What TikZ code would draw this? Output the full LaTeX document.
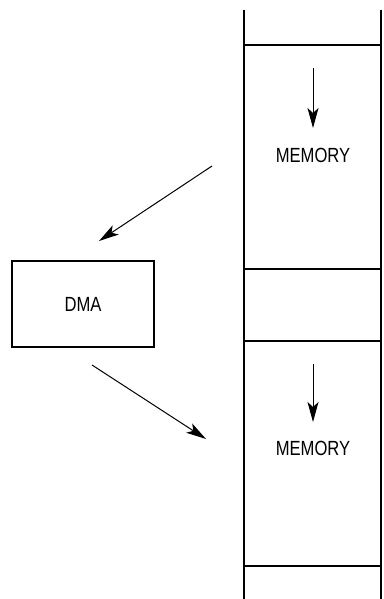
\documentclass[tikz,border=0pt]{standalone}
\usepackage{fontspec}
\setmainfont{Liberation Sans}[FakeStretch=0.81]
\usetikzlibrary{arrows.meta}
\begin{document}
\begin{tikzpicture}[x=1pt,y=-1pt,
  wall/.style={line width=2pt},
  boxstyle/.style={draw,line width=2pt,rectangle,inner sep=0pt},
  lbl/.style={font=\fontsize{20.5}{24}\selectfont,inner sep=0pt},
  arr/.style={line width=1pt,-{Stealth[length=20pt,width=11pt,inset=5pt]}}]
\useasboundingbox (0,0) rectangle (383,599);
% memory column
\coordinate (tl) at (244,10);
\coordinate (tr) at (381,10);
\coordinate (bl) at (244,599);
\coordinate (br) at (381,599);
\draw[wall] (tl) -- (bl);
\draw[wall] (tr) -- (br);
\foreach \y/\n in {45/h1,269/h2,341/h3,566/h4}{
  \coordinate (\n l) at (244,\y);
  \coordinate (\n r) at (381,\y);
  \draw[wall] (\n l) -- (\n r);
}
% labels
\node[lbl] (mem1) at (313,155) {MEMORY};
\node[lbl] (mem2) at (313,448) {MEMORY};
\coordinate (a1s) at (313,68);
\coordinate (a1e) at (313,128);
\coordinate (a2s) at (313,364);
\coordinate (a2e) at (313,422);
\draw[arr] (a1s) -- (a1e);
\draw[arr] (a2s) -- (a2e);
% DMA
\node[boxstyle,minimum width=142pt,minimum height=86pt] (dma) at (83,304) {};
\node[lbl] (dmat) at (83,304) {DMA};
\coordinate (d1s) at (212,166);
\coordinate (d1e) at (99,241);
\coordinate (d2s) at (92,365);
\coordinate (d2e) at (206,439);
\draw[arr] (d1s) -- (d1e);
\draw[arr] (d2s) -- (d2e);
\end{tikzpicture}
\end{document}
